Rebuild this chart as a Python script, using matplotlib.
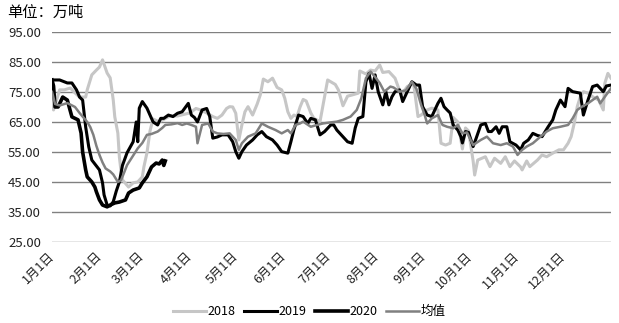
import matplotlib
matplotlib.use("Agg")
import matplotlib.pyplot as plt

plt.rcParams['font.family'] = ['Noto Sans CJK SC', 'DejaVu Sans']

# day-of-year / value pairs for each series
days_2018 = [0, 1, 3, 5, 8, 12, 15, 18, 22, 23, 26, 29, 31, 33, 36, 38, 40, 41, 43, 44, 45, 46, 50, 53, 56, 59, 60, 62, 64, 66,
             70, 77, 82, 86, 90, 94, 97, 101, 105, 108, 111, 114, 116, 118, 120, 122, 124, 126, 128, 131, 134, 136, 138, 141, 144,
             147, 150, 152, 154, 156, 158, 160, 162, 164, 166, 169, 171, 175, 180, 182, 185, 187, 190, 193, 196, 200, 201, 205,
             208, 211, 214, 216, 220, 224, 228, 232, 236, 237, 239, 241, 245, 248, 252, 254, 257, 260, 262, 265, 268, 270, 272,
             275, 276, 278, 283, 286, 289, 293, 296, 299, 302, 306, 307, 310, 312, 317, 320, 323, 327, 331, 334, 337, 339, 341,
             343, 345, 347, 350, 353, 357, 360, 361, 363, 365]
vals_2018 = [75, 69, 72.3, 75.7, 75.7, 76.3, 74.7, 73.3, 73.3, 75.7, 80.7, 82.3, 83.3, 85.7, 81.3, 79.7, 72.3, 66.7, 61.3, 53.3,
             49, 45.7, 43.3, 44.7, 45, 46.7, 50, 54.7, 62, 66, 65, 67, 67, 67.5, 68, 69.5, 69, 68, 66.8, 66.2, 67.3, 69.5, 70.1,
             70, 67.9, 59, 64, 68.4, 70.1, 67.3, 71, 74, 79.3, 78.4, 79.6, 76.5, 75.7, 72.9, 68.4, 66.2, 67.3, 66.8, 70, 72.5, 72,
             68, 66.2, 65.1, 79, 78.4, 77.5, 75.7, 70.4, 73.6, 74, 74.6, 82, 81, 82.3, 82, 84, 81.5, 81.8, 79.6, 74, 76.8, 77.9,
             74.6, 66.8, 67.3, 69, 69.6, 69, 57.9, 57.3, 57.9, 66.5, 65, 56, 63, 62, 52, 47.3, 52.3, 53.4, 50.1, 52.9, 51.2, 53.4,
             50.1, 52, 50, 49, 52, 50.1, 52.3, 54, 53.4, 54.6, 55.7, 55.7, 57.9, 60.1, 64.5, 70.1, 73.4, 75.1, 74.6, 73.4, 72.3,
             69, 77.9, 81.2, 79.6]

days_2019 = [0, 5, 10, 13, 16, 18, 20, 22, 24, 26, 31, 33, 34, 36, 38, 40, 42, 44, 46, 49, 53, 55, 56, 57, 59, 62, 64, 66, 69,
             71, 73, 76, 79, 82, 85, 89, 91, 93, 95, 98, 101, 103, 105, 108, 111, 115, 118, 120, 122, 124, 127, 131, 134, 137,
             140, 144, 147, 150, 154, 156, 158, 161, 164, 167, 169, 172, 175, 178, 182, 184, 186, 190, 193, 196, 198, 200, 203,
             205, 207, 209, 211, 213, 216, 218, 220, 222, 224, 227, 229, 232, 235, 238, 240, 242, 245, 248, 252, 254, 256, 258,
             260, 262, 265, 267, 268, 270, 272, 275, 277, 280, 283, 285, 287, 290, 292, 294, 297, 299, 303, 306, 308, 311, 314,
             317, 320, 324, 327, 329, 332, 335, 337, 340, 345, 347, 350, 353, 356, 358, 360, 362, 365]
vals_2019 = [79, 79, 78, 78, 75.7, 73.3, 72.3, 63.3, 56.7, 52.3, 49, 44.7, 40.7, 37.3, 37, 38.4, 42, 45, 50.5, 54.7, 58.4, 65,
             58.4, 69.6, 71.8, 69.6, 67.3, 65, 64, 66.2, 66.2, 67.3, 66.8, 67.9, 68.4, 71.2, 67.3, 66.5, 65, 69, 69.5, 66.8, 59.6,
             60, 60.7, 60.7, 58.4, 55.1, 52.9, 55.1, 57.3, 59, 60.7, 61.8, 60.1, 59, 57.3, 55.1, 54.6, 58.4, 62.5, 67.3, 66.8,
             64.5, 66.2, 65.7, 60.7, 61.8, 64, 64, 62.3, 60.1, 58.4, 57.9, 63, 66.2, 66.8, 78.4, 81.2, 76.2, 80.7, 75.1, 70.7,
             75.1, 70.7, 73.4, 75.1, 75.7, 71.8, 75.1, 78.4, 77.3, 77.3, 70.1, 67.3, 66.8, 71.2, 72.9, 70.1, 69, 68, 64, 62.3,
             60.1, 58, 61.8, 61.5, 56.8, 59.6, 64, 64.5, 61.8, 61.8, 63.4, 61.2, 63.4, 63.4, 58.4, 57.3, 55.7, 57.9, 59, 61.2,
             60.5, 60.1, 63.4, 65.7, 69, 72.3, 70.1, 76.2, 75.1, 74.6, 67.3, 72.3, 76.8, 77.3, 76.2, 75.1, 77, 77.3]

days_2020 = [0, 1, 2, 4, 7, 10, 13, 17, 19, 20, 22, 23, 26, 28, 29, 31, 33, 36, 38, 41, 44, 48, 50, 53, 57, 59, 62, 65, 68,
             70, 72, 73, 74]
vals_2020 = [79, 77, 70, 70, 73.3, 72.3, 66.7, 65.7, 61.3, 55, 49, 46.7, 45, 43.3, 41.7, 39, 37.3, 36.7, 37.3, 38, 38.3, 39,
             41.3, 42.3, 43, 44.7, 46.7, 50, 51.3, 51, 52.3, 50.5, 52]

days_avg = [0, 2, 5, 10, 15, 18, 23, 25, 27, 29, 31, 33, 35, 38, 40, 43, 45, 47, 49, 52, 56, 59, 62, 65, 69, 72, 74, 78, 82,
            85, 88, 91, 94, 95, 98, 102, 105, 108, 112, 116, 120, 122, 124, 128, 133, 137, 141, 146, 150, 154, 156, 159, 162,
            164, 169, 173, 177, 181, 186, 190, 195, 199, 202, 205, 208, 211, 214, 217, 221, 223, 227, 231, 235, 238, 241, 243,
            245, 248, 252, 255, 258, 262, 265, 268, 271, 275, 280, 284, 288, 293, 297, 301, 304, 307, 310, 314, 319, 323, 327,
            332, 337, 340, 343, 346, 350, 353, 356, 358, 361, 365]
vals_avg = [75, 71, 70.5, 71.3, 70, 68, 65, 63.3, 60.7, 57, 54, 51.5, 49.5, 48.5, 47.5, 45, 45.5, 48, 50.6, 53, 56.2, 58, 60.7,
            61, 61.8, 63, 64, 64.2, 64.6, 64, 64.5, 64, 63.4, 57.9, 64, 64.5, 61.8, 61.2, 61, 61.2, 59, 55.7, 57.9, 60.1, 61.2,
            64.5, 63.4, 62.3, 61.2, 62.3, 61.2, 64, 64.5, 65.1, 63.4, 64, 64.5, 64.8, 65.1, 65.7, 66.8, 69, 72.9, 79.6, 81.8,
            80, 78, 75.1, 76.8, 76.5, 75.1, 75.5, 78.4, 76, 70.7, 67.9, 64.5, 66.2, 67.3, 64, 63.4, 62.9, 64, 61.2, 61.5, 57.3,
            59, 60.1, 57.9, 57.3, 57.9, 56.8, 54, 55.7, 56.8, 57.9, 60.1, 61.8, 62.9, 63.4, 64, 66.2, 69, 70.1, 71.2, 72.3, 73.4,
            71.2, 73.4, 76.2]

month_days = [0, 31, 59, 90, 120, 151, 181, 212, 243, 273, 304, 334]
month_labels = [f"{m}月1日" for m in range(1, 13)]
y_ticks = [25, 35, 45, 55, 65, 75, 85, 95]

fig = plt.figure(figsize=(6.19, 3.23), dpi=100)
ax = fig.add_axes([0.084, 0.251, 0.903, 0.650])

ax.plot(days_2018, vals_2018, color='#c6c6c6', lw=2.2, label='2018')
ax.plot(days_2019, vals_2019, color='#000000', lw=2.2, label='2019')
ax.plot(days_2020, vals_2020, color='#000000', lw=2.6, label='2020')
ax.plot(days_avg, vals_avg, color='#808080', lw=1.8, label='均值')

ax.set_xlim(0, 365)
ax.set_ylim(25, 95)
ax.set_yticks(y_ticks)
ax.set_yticklabels([f"{v:.2f}" for v in y_ticks], fontsize=9.5, color='#222222')
ax.set_xticks(month_days)
ax.set_xticklabels(month_labels, fontsize=9, rotation=45, ha='right', va='center',
                   rotation_mode='anchor', color='#222222')
ax.tick_params(axis='both', length=0)
ax.tick_params(axis='x', pad=9)
ax.tick_params(axis='y', pad=8)
ax.grid(axis='y', color='#808080', lw=1.0)
ax.set_axisbelow(True)
for s in ax.spines.values():
    s.set_visible(False)

fig.text(0.012, 0.962, "单位：万吨", fontsize=11, va='center', ha='left')

fig.legend(loc='center', bbox_to_anchor=(0.50, 0.035), ncol=4, frameon=False, fontsize=9,
           handlelength=2.6, columnspacing=0.7, handletextpad=0.15)

fig.savefig('out.png', dpi=100)
